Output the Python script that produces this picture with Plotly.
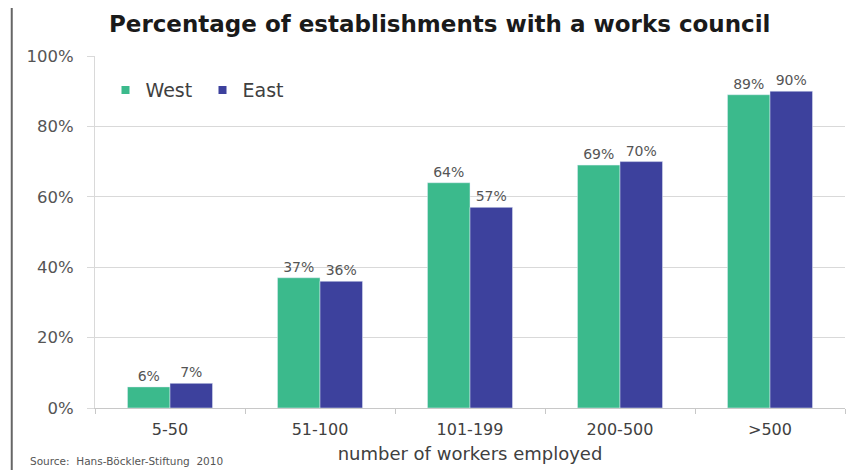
import plotly.graph_objects as go

categories = ["5-50", "51-100", "101-199", "200-500", ">500"]
west = [0.06, 0.37, 0.64, 0.69, 0.89]
east = [0.07, 0.36, 0.57, 0.70, 0.90]
west_labels = ["6%", "37%", "64%", "69%", "89%"]
east_labels = ["7%", "36%", "57%", "70%", "90%"]
y_ticks = [0, 0.2, 0.4, 0.6, 0.8, 1.0]
y_tick_text = ["0%", "20%", "40%", "60%", "80%", "100%"]

FONT = "DejaVu Sans, Verdana, sans-serif"
WEST_C = "#3bba8c"
EAST_C = "#3d419d"

fig = go.Figure()
fig.add_trace(go.Bar(name="West", x=categories, y=west, text=west_labels,
                     textposition="outside", marker_color=WEST_C, showlegend=False,
                     textfont=dict(size=14, color="#555555", family=FONT),
                     cliponaxis=False))
fig.add_trace(go.Bar(name="East", x=categories, y=east, text=east_labels,
                     textposition="outside", marker_color=EAST_C, showlegend=False,
                     textfont=dict(size=14, color="#555555", family=FONT),
                     cliponaxis=False))
# legend entries with small square swatches
fig.add_trace(go.Scatter(name="West", x=[None], y=[None], mode="markers",
                         marker=dict(symbol="square", size=8, color=WEST_C)))
fig.add_trace(go.Scatter(name="East", x=[None], y=[None], mode="markers",
                         marker=dict(symbol="square", size=8, color=EAST_C)))

fig.update_layout(
    width=860, height=462,
    margin=dict(l=87, r=23, t=48, b=62, autoexpand=False),
    paper_bgcolor="white", plot_bgcolor="white",
    barmode="group", bargap=0.433, bargroupgap=0,
    font=dict(family=FONT, color="#404040"),
    title=dict(text="<b>Percentage of establishments with a works council</b>",
               x=0.502, xanchor="center", y=0.965, yanchor="middle",
               font=dict(size=23, color="#1a1a1a", family=FONT)),
    legend=dict(orientation="h", x=0.014, y=0.903, xanchor="left", yanchor="middle",
                font=dict(size=19, color="#404040", family=FONT),
                bgcolor="rgba(0,0,0,0)", itemwidth=30, traceorder="normal",
                entrywidth=52, entrywidthmode="pixels"),
)
fig.update_yaxes(range=[0, 1.0], tickvals=y_ticks, ticktext=y_tick_text,
                 showgrid=True, gridcolor="#d9d9d9", gridwidth=1,
                 ticks="outside", ticklen=7, tickcolor="#d9d9d9",
                 ticklabelstandoff=10, automargin=False,
                 showline=True, linecolor="#d9d9d9",
                 tickfont=dict(size=16.5, color="#555555", family=FONT),
                 zeroline=False)
fig.update_xaxes(showline=True, linecolor="#c8c8c8", ticks="outside",
                 tickson="boundaries", ticklen=5, tickcolor="#c8c8c8",
                 ticklabelstandoff=7, automargin=False,
                 tickfont=dict(size=16, color="#404040", family=FONT),
                 title=dict(text="number of workers employed", standoff=9,
                            font=dict(size=18, color="#404040", family=FONT)))

fig.add_annotation(text="Source:  Hans-Böckler-Stiftung  2010", xref="paper", yref="paper",
                   x=-0.09, y=-0.15, xanchor="left", yanchor="middle", showarrow=False,
                   font=dict(size=10.5, color="#555555", family=FONT))
fig.add_shape(type="line", xref="paper", yref="paper", x0=-0.111, x1=-0.111,
              y0=-0.2, y1=1.2, line=dict(color="#666666", width=2))

fig.write_html("out.html")
